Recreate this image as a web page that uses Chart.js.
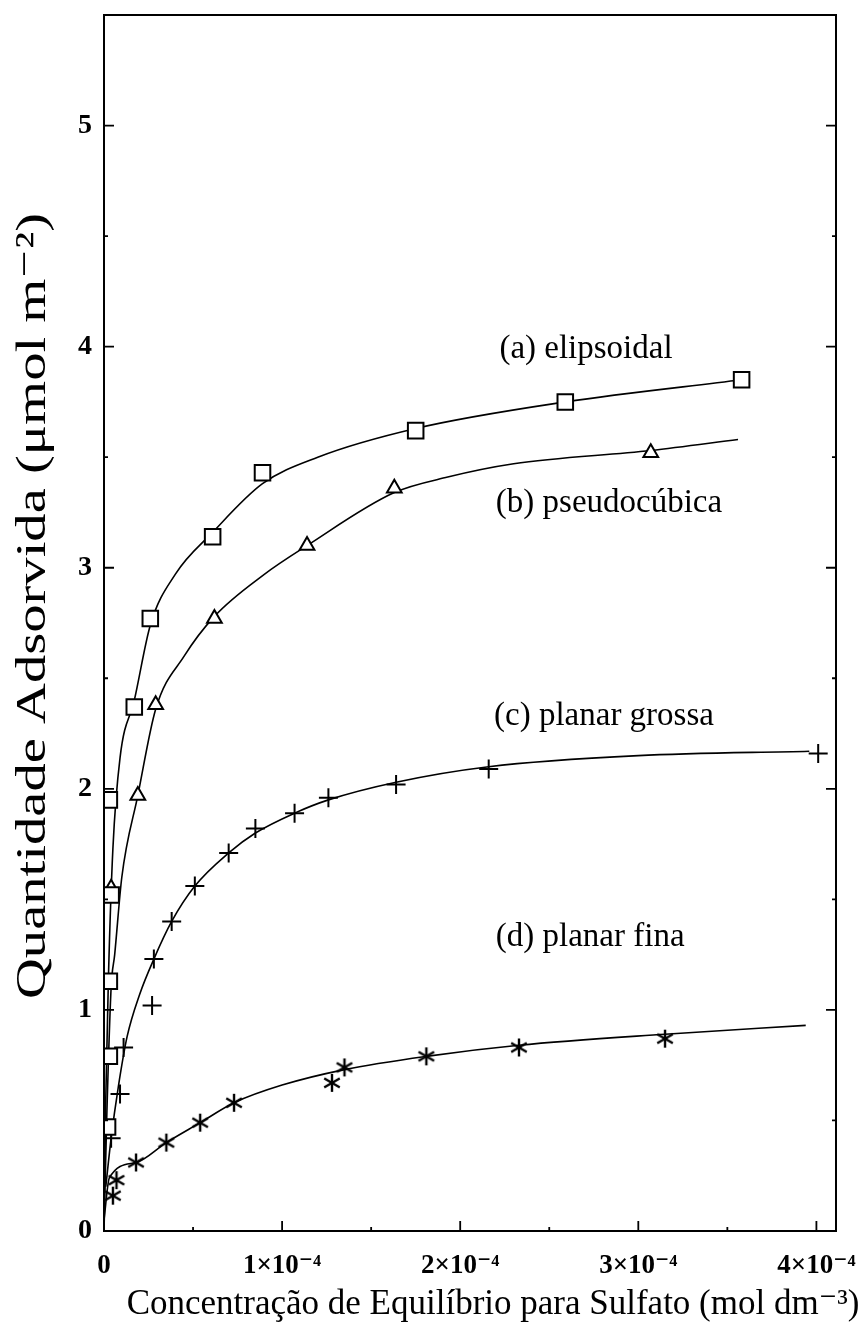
<!DOCTYPE html>
<html>
<head>
<meta charset="utf-8">
<script src="https://cdn.jsdelivr.net/npm/chart.js@4.4.1/dist/chart.umd.min.js"></script>
<style>
  html, body { margin: 0; padding: 0; background: #fff; }
  #wrap { width: 861px; height: 1324px; position: relative; }
</style>
</head>
<body>
<div id="wrap"><canvas id="grafico"></canvas></div>
<script>
// concentracoes em unidades de 1e-4 mol dm-3, adsorcao em umol m-2

// (a) elipsoidal - quadrados
const xElipsoidal = [0.02, 0.03, 0.03, 0.04, 0.03, 0.17, 0.26, 0.61, 0.89, 1.75, 2.59, 3.58];
const yElipsoidal = [0.47, 0.79, 1.13, 1.52, 1.95, 2.37, 2.77, 3.14, 3.43, 3.62, 3.75, 3.85];
const curvaAx = [0, 0.01, 0.025, 0.05, 0.09, 0.17, 0.26, 0.4, 0.61, 0.89, 1.2, 1.75, 2.59, 3.58];
const curvaAy = [0, 0.6, 1.15, 1.73, 2.14, 2.4, 2.74, 2.97, 3.16, 3.38, 3.5, 3.63, 3.75, 3.85];

// (b) pseudocubica - triangulos
const xPseudo = [0.04, 0.19, 0.29, 0.62, 1.14, 1.63, 3.07];
const yPseudo = [1.55, 1.97, 2.38, 2.77, 3.1, 3.36, 3.52];
const curvaBx = [0, 0.015, 0.04, 0.06, 0.1, 0.19, 0.29, 0.45, 0.62, 0.9, 1.14, 1.63, 1.93, 2.3, 3.07, 3.56];
const curvaBy = [0, 0.5, 1.1, 1.25, 1.6, 1.97, 2.36, 2.6, 2.78, 2.97, 3.1, 3.34, 3.41, 3.47, 3.53, 3.58];

// (c) planar grossa - cruzes
const xGrossa = [0.04, 0.09, 0.11, 0.27, 0.28, 0.38, 0.51, 0.7, 0.85, 1.07, 1.26, 1.64, 2.16, 4.01];
const yGrossa = [0.42, 0.62, 0.83, 1.02, 1.23, 1.4, 1.56, 1.71, 1.82, 1.89, 1.96, 2.02, 2.09, 2.16];
const curvaCx = [0.01, 0.04, 0.08, 0.13, 0.2, 0.28, 0.38, 0.51, 0.7, 0.85, 1.07, 1.26, 1.64, 2.16, 3.0, 3.96];
const curvaCy = [0.2, 0.42, 0.65, 0.88, 1.07, 1.23, 1.4, 1.56, 1.71, 1.8, 1.89, 1.95, 2.03, 2.1, 2.15, 2.17];

// (d) planar fina - asteriscos
const xFina = [0.05, 0.07, 0.18, 0.35, 0.54, 0.73, 1.28, 1.35, 1.81, 2.33, 3.15];
const yFina = [0.16, 0.23, 0.31, 0.4, 0.49, 0.58, 0.67, 0.74, 0.79, 0.83, 0.87];
const curvaDx = [0, 0.03, 0.18, 0.35, 0.54, 0.73, 1.0, 1.35, 1.81, 2.33, 3.15, 3.94];
const curvaDy = [0.05, 0.24, 0.31, 0.4, 0.49, 0.58, 0.66, 0.73, 0.79, 0.84, 0.89, 0.93];

const ticksX = [0, 1, 2, 3, 4];
const ticksY = [0, 1, 2, 3, 4, 5];

const rotulos = [
  { texto: "(a) elipsoidal", x: 2.22, y: 3.99 },
  { texto: "(b) pseudocúbica", x: 2.2, y: 3.29 },
  { texto: "(c) planar grossa", x: 2.19, y: 2.33 },
  { texto: "(d) planar fina", x: 2.2, y: 1.33 },
];

const tituloX = "Concentração de Equilíbrio para Sulfato (mol dm⁻³)";
const tituloY = "Quantidade Adsorvida (μmol m⁻²)";

const SERIF = "'Liberation Serif', 'DejaVu Serif', serif";

function pontos(xs, ys) {
  return xs.map((v, i) => ({ x: v, y: ys[i] }));
}

// asterisco de 6 bracos
function criarAsterisco() {
  const c = document.createElement("canvas");
  c.width = 20;
  c.height = 20;
  const g = c.getContext("2d");
  g.strokeStyle = "#000";
  g.lineWidth = 2.4;
  [90, 30, 150].forEach((ang) => {
    const r = (ang * Math.PI) / 180;
    const dx = Math.cos(r) * 9, dy = Math.sin(r) * 9;
    g.beginPath();
    g.moveTo(10 - dx, 10 - dy);
    g.lineTo(10 + dx, 10 + dy);
    g.stroke();
  });
  return c;
}

function linha(xs, ys) {
  return {
    data: pontos(xs, ys),
    showLine: true,
    borderColor: "#000",
    borderWidth: 1.6,
    pointRadius: 0,
    cubicInterpolationMode: "monotone",
    fill: false,
    order: 2,
  };
}

function marcador(xs, ys, estilo, raio) {
  return {
    data: pontos(xs, ys),
    showLine: false,
    pointStyle: estilo,
    pointRadius: raio,
    pointBorderColor: "#000",
    pointBackgroundColor: "#fff",
    pointBorderWidth: 2,
    order: 1,
  };
}

const molduraPlugin = {
  id: "moldura",
  afterDraw(chart) {
    const { ctx, chartArea: a, scales } = chart;
    const sx = scales.x, sy = scales.y;
    ctx.save();
    ctx.strokeStyle = "#000";
    ctx.lineWidth = 2;
    ctx.strokeRect(a.left, a.top, a.right - a.left, a.bottom - a.top);

    ctx.lineWidth = 1.8;
    ctx.beginPath();
    for (let v = 0.5; v <= 4.01; v += 0.5) {
      const px = sx.getPixelForValue(v);
      const len = Number.isInteger(v) ? 10 : 4;
      ctx.moveTo(px, a.bottom);
      ctx.lineTo(px, a.bottom - len);
    }
    for (let v = 0.5; v <= 5.01; v += 0.5) {
      const py = sy.getPixelForValue(v);
      const len = Number.isInteger(v) ? 10 : 4;
      ctx.moveTo(a.left, py);
      ctx.lineTo(a.left + len, py);
      ctx.moveTo(a.right, py);
      ctx.lineTo(a.right - len, py);
    }
    ctx.stroke();

    ctx.fillStyle = "#000";
    ctx.font = "33px " + SERIF;
    ctx.textAlign = "left";
    ctx.textBaseline = "middle";
    rotulos.forEach((r) => {
      ctx.fillText(r.texto, sx.getPixelForValue(r.x), sy.getPixelForValue(r.y));
    });

    ctx.font = "35px " + SERIF;
    ctx.textAlign = "center";
    ctx.textBaseline = "alphabetic";
    ctx.fillText(tituloX, 493, 1314);

    // titulo do eixo y, esticado no sentido da leitura como no original
    ctx.font = "42px " + SERIF;
    ctx.textBaseline = "middle";
    const larg = ctx.measureText(tituloY).width;
    ctx.translate(34, 606);
    ctx.rotate(-Math.PI / 2);
    ctx.scale(786 / larg, 1);
    ctx.fillText(tituloY, 0, 0);
    ctx.restore();
  },
};

const ctx = document.getElementById("grafico").getContext("2d");
new Chart(ctx, {
  type: "scatter",
  data: {
    datasets: [
      marcador(xElipsoidal, yElipsoidal, "rect", 11),
      marcador(xPseudo, yPseudo, "triangle", 8.5),
      marcador(xGrossa, yGrossa, "cross", 9.5),
      marcador(xFina, yFina, criarAsterisco(), 10),
      linha(curvaAx, curvaAy),
      linha(curvaBx, curvaBy),
      linha(curvaCx, curvaCy),
      linha(curvaDx, curvaDy),
    ],
  },
  options: {
    responsive: true,
    maintainAspectRatio: false,
    animation: false,
    layout: { padding: { top: 15, right: 25, left: 0, bottom: 0 } },
    plugins: {
      legend: { display: false },
      tooltip: { enabled: false },
    },
    scales: {
      x: {
        type: "linear",
        min: 0,
        max: 4.11,
        grid: { display: false, drawTicks: false },
        border: { display: false },
        afterBuildTicks: (s) => { s.ticks = ticksX.map((v) => ({ value: v })); },
        ticks: {
          autoSkip: false,
          maxRotation: 0,
          padding: 19,
          color: "#000",
          font: { family: SERIF, size: 27, weight: "bold" },
          callback: (v) => (v === 0 ? "0" : v + "×10⁻⁴"),
        },
        afterFit: (s) => {
          s.height = 93;
          s.paddingLeft = 0;
          s.paddingRight = 0;
        },
      },
      y: {
        type: "linear",
        min: 0,
        max: 5.5,
        grid: { display: false, drawTicks: false },
        border: { display: false },
        afterBuildTicks: (s) => { s.ticks = ticksY.map((v) => ({ value: v })); },
        ticks: {
          padding: 12,
          color: "#000",
          font: { family: SERIF, size: 28, weight: "bold" },
        },
        afterFit: (s) => {
          s.width = 104;
          s.paddingTop = 0;
          s.paddingBottom = 0;
        },
      },
    },
  },
  plugins: [molduraPlugin],
});
</script>
</body>
</html>
